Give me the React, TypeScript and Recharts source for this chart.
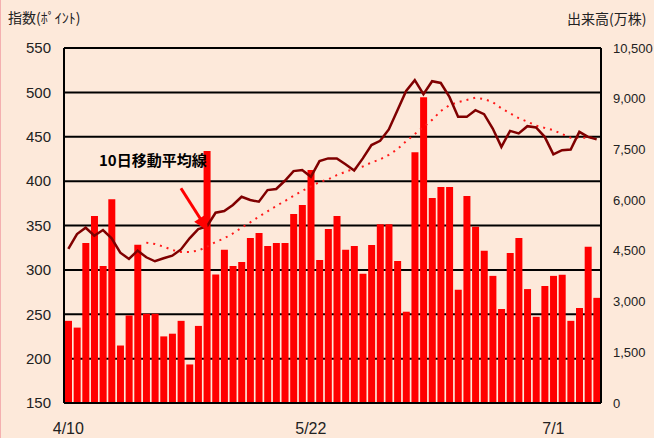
import React from "react";
import {
  ComposedChart,
  Bar,
  Line,
  XAxis,
  YAxis,
  CartesianGrid,
  ReferenceLine,
} from "recharts";

// trading days, 2003/4/10 - 7/8
const dates = [
  "4/10", "4/11", "4/14", "4/15", "4/16", "4/17", "4/18", "4/21", "4/22", "4/23",
  "4/24", "4/25", "4/28", "4/30", "5/1", "5/2", "5/6", "5/7", "5/8", "5/9",
  "5/12", "5/13", "5/14", "5/15", "5/16", "5/19", "5/20", "5/21", "5/22", "5/23",
  "5/26", "5/27", "5/28", "5/29", "5/30", "6/2", "6/3", "6/4", "6/5", "6/6",
  "6/9", "6/10", "6/11", "6/12", "6/13", "6/16", "6/17", "6/18", "6/19", "6/20",
  "6/23", "6/24", "6/25", "6/26", "6/27", "6/30", "7/1", "7/2", "7/3", "7/4",
  "7/7", "7/8",
];

// 出来高 (万株)
const volume = [
  2430, 2230, 4730, 5530, 4050, 6030, 1700, 2590, 4680, 2640,
  2640, 1970, 2050, 2430, 1140, 2280, 7450, 3800, 4530, 4050,
  4170, 4880, 5030, 4640, 4730, 4730, 5590, 5860, 6890, 4230,
  5150, 5530, 4530, 4640, 3820, 4670, 5290, 5290, 4200, 2700,
  7420, 9040, 6060, 6390, 6390, 3350, 6120, 5210, 4500, 3760,
  2780, 4440, 4880, 3370, 2550, 3460, 3760, 3790, 2430, 2810,
  4620, 3110,
];

// 指数 (ポイント)
const indexPts = [
  323.6, 340.4, 347.5, 338.5, 344.9, 335.6, 319.4, 312.3, 321.7, 314.2,
  309.7, 313.1, 316, 323, 335.6, 346, 349, 364.4, 366.3, 373.1,
  382.4, 378.7, 376.8, 389.9, 391.1, 400.4, 411.3, 412.4, 404.9, 422.6,
  425.6, 425.6, 419, 412, 425.6, 440.6, 445.4, 458.2, 479.9, 501.6,
  513.7, 497.9, 512.6, 510.6, 494.9, 472.4, 472.4, 479.9, 475.4, 459.3,
  438.6, 456.6, 453.7, 461.9, 460.5, 449.9, 430.1, 434.9, 435.7, 455.5,
  449.9, 447,
];

// 10日移動平均
const ma10 = [
  null, null, null, null, null, null, null, null, null, 330.7,
  329.2, 326.2, 322.4, 320.2, 320.2, 321.7, 326, 331.5, 335.5, 341,
  347.5, 353.5, 360, 366, 372, 377.5, 383.5, 389, 394, 399,
  402, 406.8, 410.5, 414, 416.5, 421, 424.5, 429.5, 436, 445,
  453, 461, 469, 479, 485.5, 489, 491.5, 494, 492.5, 489,
  482, 476.5, 471, 467, 462.5, 460, 457.5, 453, 449, 449,
  449, 448.5,
];

const leftTicks = [150, 200, 250, 300, 350, 400, 450, 500, 550];
const rightTicks = [0, 1500, 3000, 4500, 6000, 7500, 9000, 10500];
const minorTicks = [4.5, 9, 13.5, 18, 22.5, 27, 31.5, 36, 40.5, 45, 49.5, 54, 58.5];

const data = dates.map((d, i) => ({
  date: d,
  volume: volume[i],
  index: indexPts[i],
  ma: ma10[i],
}));

const bg = "#fde9da";
const jp = '"Noto Sans CJK JP", "Liberation Sans", sans-serif';
const num = '"Liberation Sans", Arial, sans-serif';

const Arrow = (p: any) => {
  const { x1, y1, x2, y2 } = p;
  const ang = Math.atan2(y2 - y1, x2 - x1);
  const len = 13;
  const w1 = ang + Math.PI - 0.42;
  const w2 = ang + Math.PI + 0.42;
  const pts = [
    [x2 + len * Math.cos(w1), y2 + len * Math.sin(w1)],
    [x2, y2],
    [x2 + len * Math.cos(w2), y2 + len * Math.sin(w2)],
  ]
    .map((q) => q.join(","))
    .join(" ");
  return (
    <g>
      <line x1={x1} y1={y1} x2={x2} y2={y2} stroke="#ff0000" strokeWidth={3} />
      <polygon points={pts} fill="#ff0000" stroke="#ff0000" strokeWidth={2} />
    </g>
  );
};

export default function App() {
  return (
    <div
      style={{
        position: "absolute",
        left: 0,
        top: 0,
        width: 654,
        height: 438,
        background: bg,
        overflow: "hidden",
        boxShadow: "inset 1px 0 0 #f4b0b0",
      }}
    >
      <ComposedChart
        width={654}
        height={438}
        data={data}
        margin={{ top: 48, right: 0, bottom: 0, left: 0 }}
      >
        <CartesianGrid
          xAxisId="cat"
          yAxisId="left"
          vertical={false}
          stroke="#000"
          strokeWidth={2}
        />
        <XAxis
          xAxisId="t"
          type="number"
          domain={[0, 62]}
          ticks={minorTicks}
          tick={false}
          axisLine={false}
          tickLine={{ stroke: "#333", strokeWidth: 1.5 }}
          tickSize={4}
          mirror
          height={0}
          allowDataOverflow
        />
        <XAxis
          xAxisId="cat"
          dataKey="date"
          interval={27}
          height={35}
          tickLine={false}
          tickSize={6}
          tickMargin={14}
          axisLine={{ stroke: "#000", strokeWidth: 2 }}
          tick={{ fontSize: 16, fontFamily: num, fill: "#222" }}
        />
        <YAxis
          yAxisId="left"
          domain={[150, 550]}
          ticks={leftTicks}
          width={64}
          tickLine={false}
          tickSize={6}
          tickMargin={7}
          axisLine={{ stroke: "#000", strokeWidth: 2 }}
          tick={{ fontSize: 15, fontFamily: num, fill: "#222" }}
        />
        <YAxis
          yAxisId="right"
          orientation="right"
          domain={[0, 10500]}
          ticks={rightTicks}
          width={53}
          tickLine={false}
          tickSize={6}
          tickMargin={6}
          axisLine={{ stroke: "#000", strokeWidth: 2 }}
          tickFormatter={(v: number) => v.toLocaleString("en-US")}
          tick={{ fontSize: 13, fontFamily: num, fill: "#222" }}
        />
        <Bar
          xAxisId="cat"
          yAxisId="right"
          dataKey="volume"
          fill="#ff0000"
          barSize={7}
          isAnimationActive={false}
        />
        <Line
          xAxisId="cat"
          yAxisId="left"
          type="linear"
          dataKey="ma"
          stroke="#ff1a1a"
          strokeWidth={2}
          strokeDasharray="2 5"
          dot={false}
          isAnimationActive={false}
        />
        <Line
          xAxisId="cat"
          yAxisId="left"
          type="linear"
          dataKey="index"
          stroke="#800000"
          strokeWidth={2.5}
          dot={false}
          isAnimationActive={false}
        />
        <ReferenceLine
          xAxisId="cat"
          yAxisId="left"
          segment={[
            { x: dates[13], y: 392 },
            { x: dates[16], y: 346 },
          ]}
          shape={Arrow}
          ifOverflow="visible"
        />
      </ComposedChart>
      <div
        style={{
          position: "absolute",
          left: 8,
          top: 10,
          fontFamily: jp,
          fontSize: 14,
          lineHeight: "14px",
          color: "#222",
          whiteSpace: "nowrap",
        }}
      >
        指数(ﾎﾟｲﾝﾄ)
      </div>
      <div
        style={{
          position: "absolute",
          left: 567,
          top: 11,
          fontFamily: jp,
          fontSize: 14,
          lineHeight: "14px",
          color: "#222",
          whiteSpace: "nowrap",
        }}
      >
        出来高(万株)
      </div>
      <div
        style={{
          position: "absolute",
          left: 99,
          top: 152,
          fontFamily: jp,
          fontSize: 15,
          fontWeight: 700,
          lineHeight: "15px",
          color: "#000",
          whiteSpace: "nowrap",
        }}
      >
        10日移動平均線
      </div>
    </div>
  );
}
